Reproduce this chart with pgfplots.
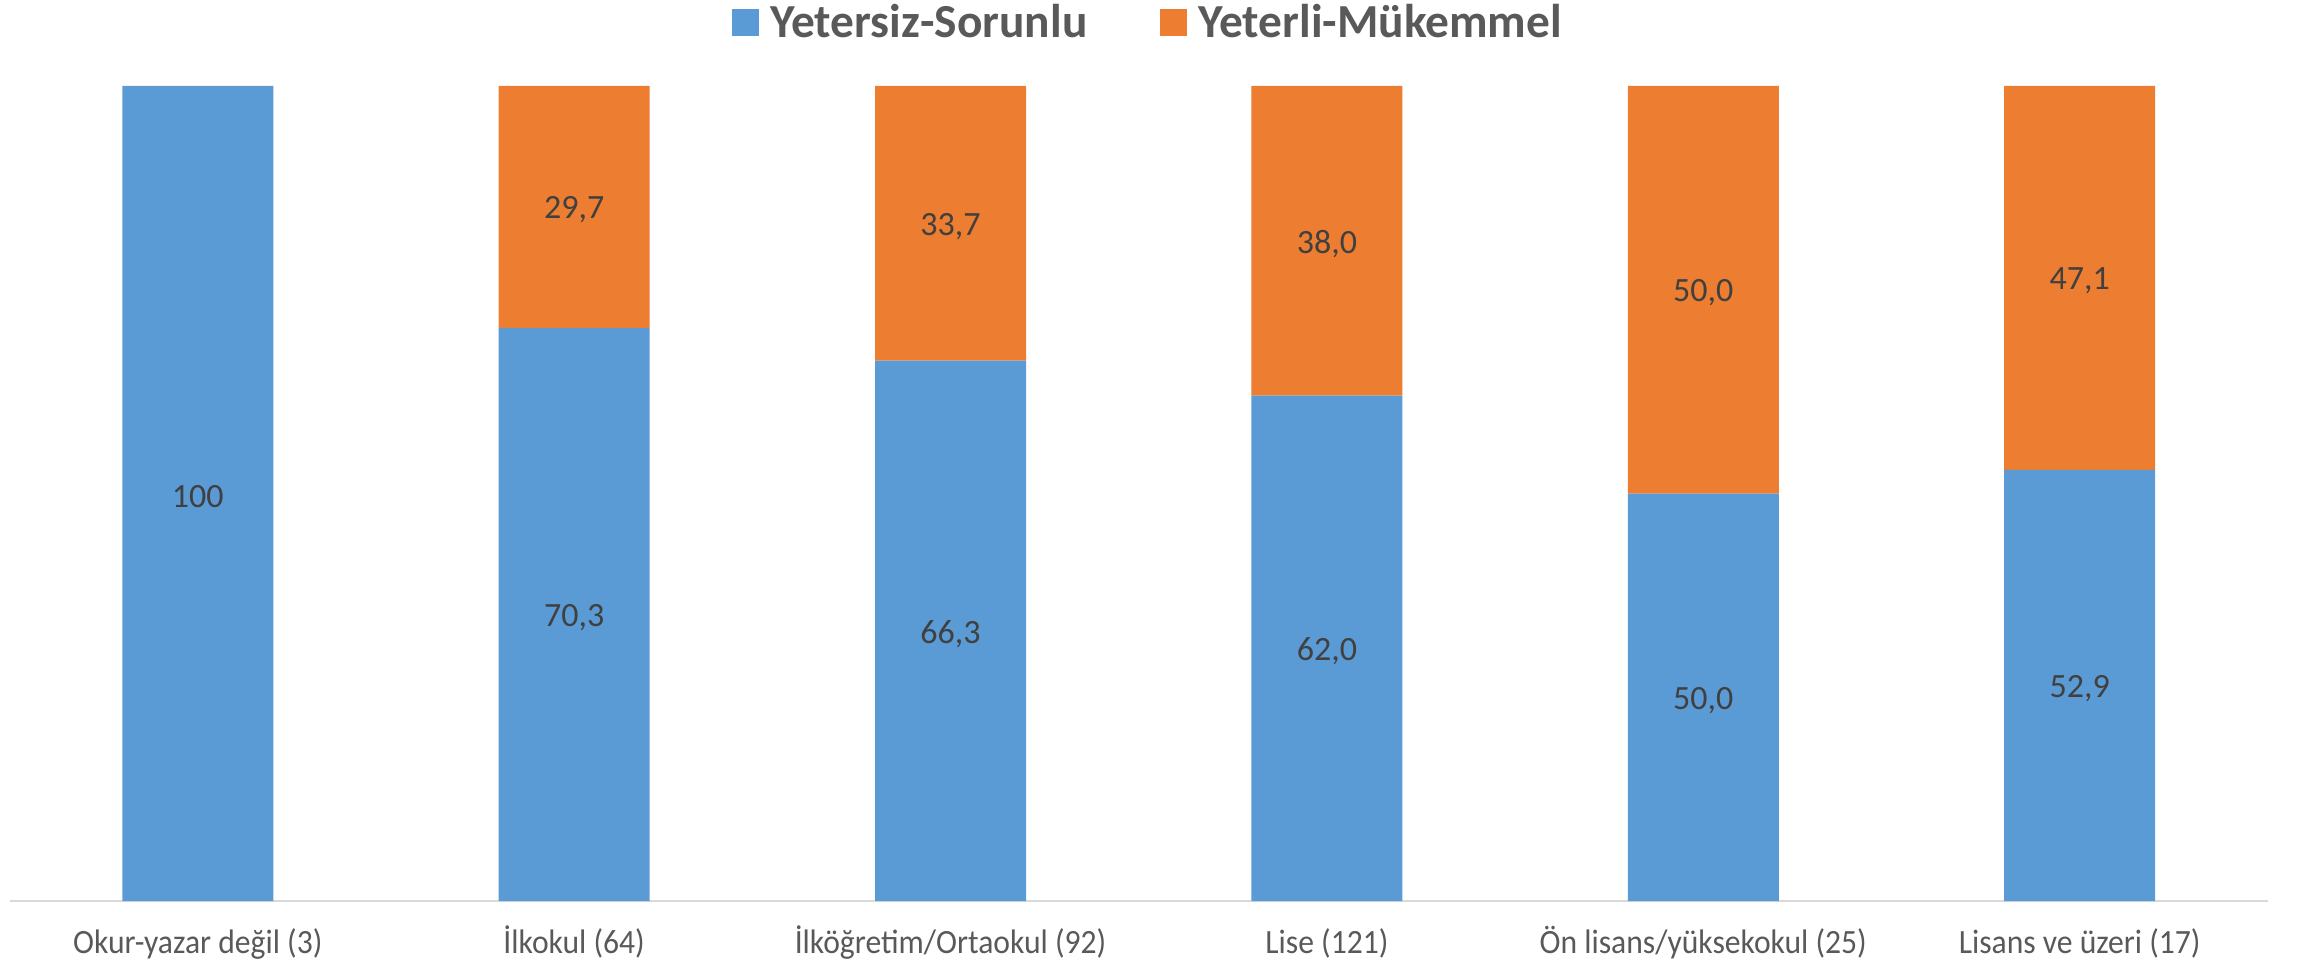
\documentclass[border=0pt]{standalone}
\usepackage{pgfplots}
\pgfplotsset{compat=1.18}
\usepackage{pgfplotstable}
\usepackage{fontspec}
\setmainfont{Carlito}
\newfontfamily\tickfont{Carlito}[FakeStretch=0.93]
\definecolor{cblue}{HTML}{5B9BD5}
\definecolor{corange}{HTML}{ED7D31}
\definecolor{tgray}{HTML}{595959}
\definecolor{lgray}{HTML}{404040}
\definecolor{axgray}{HTML}{D9D9D9}

\pgfplotstableread{
x blue orange
0 100 0
1 70.3 29.7
2 66.3 33.7
3 62.0 38.0
4 50.0 50.0
5 52.9 47.1
}\datatab

\pgfplotstableread{
x y lab
0 50 100
1 35.15 70,3
2 33.15 66,3
3 31 62,0
4 25 50,0
5 26.45 52,9
1 85.15 29,7
2 83.15 33,7
3 81 38,0
4 75 50,0
5 76.45 47,1
}\labtab

\begin{document}
\begin{tikzpicture}
\useasboundingbox (0,0) rectangle (1151pt,483pt);
\begin{axis}[
  at={(4.8pt,32.5pt)}, anchor=south west,
  scale only axis, width=1129.2pt, height=407.5pt,
  xmin=-0.5, xmax=5.5, ymin=0, ymax=100,
  ybar stacked, bar width=75.5pt,
  clip=false,
  axis x line*=bottom, axis y line=none,
  x axis line style={draw=axgray, line width=1pt, -},
  xtick={0,1,2,3,4,5},
  xticklabels={Okur-yazar değil (3), İlkokul (64), İlköğretim/Ortaokul (92), Lise (121), Ön lisans/yüksekokul (25), Lisans ve üzeri (17)},
  xtick style={draw=none},
  ytick=\empty,
  xticklabel style={anchor=base, yshift=-26pt, font=\tickfont\fontsize{17}{20}\selectfont, text=tgray},
  legend style={at={(0.5,1)}, anchor=south, xshift=5.25pt, yshift=20.5pt, draw=none, fill=none,
    font=\fontsize{23.7}{28}\selectfont\bfseries, nodes={text=tgray},
    legend columns=2, /tikz/every even column/.append style={column sep=34.5pt},
    inner sep=0pt, outer sep=0pt, legend cell align=left},
]
\addplot[fill=cblue, draw=none, legend image code/.code={\fill[cblue] (0pt,-6.75pt) rectangle (13.5pt,6.75pt); \path (17pt,0pt);}] table[x=x, y=blue] {\datatab};
\addlegendentry{Yetersiz-Sorunlu}
\addplot[fill=corange, draw=none, legend image code/.code={\fill[corange] (0pt,-6.75pt) rectangle (13.5pt,6.75pt); \path (17pt,0pt);}] table[x=x, y=orange] {\datatab};
\addlegendentry{Yeterli-Mükemmel}
\end{axis}
\begin{axis}[
  at={(4.8pt,32.5pt)}, anchor=south west,
  scale only axis, width=1129.2pt, height=407.5pt,
  xmin=-0.5, xmax=5.5, ymin=0, ymax=100,
  hide axis, clip=false,
]
\addplot[draw=none, mark=none, nodes near coords, point meta=explicit symbolic,
  every node near coord/.append style={anchor=center, yshift=-1.5pt, font=\fontsize{17}{20}\selectfont, text=lgray}]
  table[x=x, y=y, meta=lab] {\labtab};
\end{axis}
\end{tikzpicture}
\end{document}
